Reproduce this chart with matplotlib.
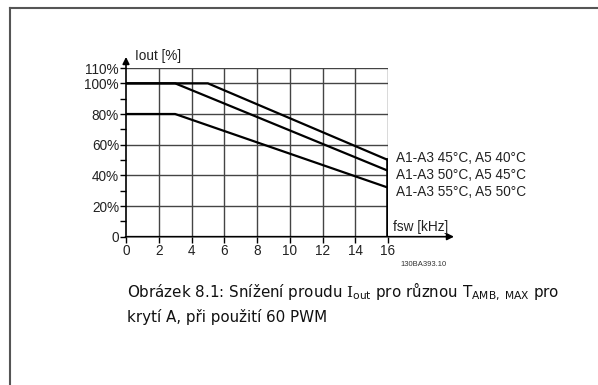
import matplotlib
matplotlib.use('Agg')
import matplotlib.pyplot as plt
from matplotlib.lines import Line2D

plt.rcParams['font.family'] = ['Liberation Sans', 'DejaVu Sans']
plt.rcParams['mathtext.fontset'] = 'custom'
plt.rcParams['mathtext.rm'] = 'DejaVu Serif'
plt.rcParams['mathtext.sf'] = 'DejaVu Sans'

# derating curves, fsw [kHz] vs Iout [%]
x_45 = [0, 5, 16]
y_45 = [100, 100, 50]
x_50 = [0, 3, 16]
y_50 = [100, 100, 43]
x_55 = [0, 3, 16]
y_55 = [80, 80, 32]
labels = ['A1-A3 45°C, A5 40°C', 'A1-A3 50°C, A5 45°C', 'A1-A3 55°C, A5 50°C']
label_y = [51, 40, 29]

xticks = [0, 2, 4, 6, 8, 10, 12, 14, 16]
yticks = [0, 20, 40, 60, 80, 100, 110]
yticklabels = ['0', '20%', '40%', '60%', '80%', '100%', '110%']
yminor = [10, 30, 50, 70, 90]

W, H = 598, 385
fig = plt.figure(figsize=(W / 100, H / 100), dpi=100)
ax = fig.add_axes([126 / W, (H - 236.7) / H, (388 - 126) / W, (236.7 - 68) / H])
ax.set_xlim(0, 16)
ax.set_ylim(0, 110)

for s in ax.spines.values():
    s.set_visible(False)

# grid
for xv in xticks[1:]:
    ax.plot([xv, xv], [0, 110], color='#444444', lw=1.0, zorder=1)
for yv in yticks[1:]:
    ax.plot([0, 16], [yv, yv], color='#444444', lw=1.0, zorder=1)

for xs, ys in [(x_45, y_45), (x_50, y_50), (x_55, y_55)]:
    ax.plot(xs, ys, color='black', lw=1.6, zorder=3)
ax.plot([16, 16], [0, y_45[-1]], color='black', lw=2.6, zorder=3)

# axes with arrows
ax.annotate('', xy=(20.2, 0), xytext=(-0.2, 0), annotation_clip=False,
            arrowprops=dict(arrowstyle='-|>', color='black', lw=1.2, mutation_scale=10))
ax.annotate('', xy=(0, 119), xytext=(0, -1), annotation_clip=False,
            arrowprops=dict(arrowstyle='-|>', color='black', lw=1.2, mutation_scale=10))

ax.set_xticks(xticks)
ax.set_yticks(yticks)
ax.set_yticklabels(yticklabels)
ax.set_yticks(yminor, minor=True)
ax.tick_params(axis='both', which='both', length=4, width=1, color='black',
               labelsize=9.8, labelcolor='#222222', pad=1)
ax.tick_params(axis='y', which='minor', length=4)

ax.text(0.55, 118, 'Iout [%]', fontsize=9.8, ha='left', va='center', color='#222222', clip_on=False)
ax.text(16.3, 6, 'fsw [kHz]', fontsize=9.8, ha='left', va='center', color='#222222', clip_on=False)
for lab, ly in zip(labels, label_y):
    ax.text(16.5, ly, lab, fontsize=9.8, ha='left', va='center', color='#222222', clip_on=False)

fig.text(400 / W, 1 - 265 / H, '130BA393.10', fontsize=5.5, ha='left', va='center', color='#333333')

# caption
fig.text(127 / W, 1 - 292 / H,
         r'Obrázek 8.1: Snížení proudu $\mathrm{I}_{\mathsf{out}}$ pro různou T$_{\mathsf{AMB,\ MAX}}$ pro',
         fontsize=10.9, family='DejaVu Sans', ha='left', va='center', color='#111111')
fig.text(127 / W, 1 - 317 / H, 'krytí A, při použití 60 PWM',
         fontsize=10.9, family='DejaVu Sans', ha='left', va='center', color='#111111')

# page frame
fig.add_artist(Line2D([10 / W, 10 / W], [0, 1 - 7.5 / H], color='#555555', lw=1.5))
fig.add_artist(Line2D([10 / W, 1], [1 - 7.5 / H, 1 - 7.5 / H], color='#555555', lw=1.5))

fig.savefig('out.png', dpi=100)
